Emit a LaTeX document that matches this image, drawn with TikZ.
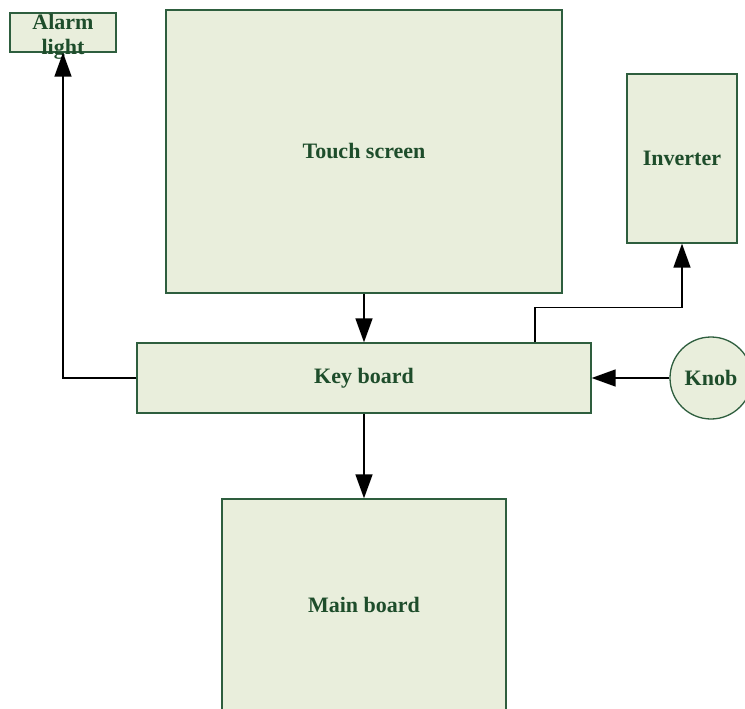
\documentclass[tikz,border=0pt]{standalone}
\usepackage{fontspec}
\setmainfont{Liberation Serif}
\usepackage{tikz}
\usetikzlibrary{arrows.meta,positioning}

\definecolor{boxfill}{HTML}{E9EEDC}
\definecolor{boxline}{HTML}{2E5E3E}
\definecolor{boxtext}{HTML}{1E4D2B}

\begin{document}
\begin{tikzpicture}[
  x=1pt, y=-1pt,
  font=\bfseries\fontsize{22}{25}\selectfont,
  block/.style={draw=boxline, fill=boxfill, line width=1.3pt, inner sep=0pt, text=boxtext, align=center},
  round/.style={block, circle},
  caption/.style={inner sep=0pt, text=boxtext, align=center},
  arrow/.style={-{Triangle[length=24pt,width=17pt]}, line width=1.5pt}
]
\useasboundingbox (0,0) rectangle (745,709);
\clip (0,0) rectangle (745,709);

\node[block, minimum width=396pt, minimum height=283pt] (touch) at (364,151.5) {Touch screen};
\node[block, minimum width=454pt, minimum height=70pt] (keyb) at (364,378) {Key board};
\node[block, minimum width=284pt, minimum height=212pt] (main) at (364,605) {Main board};
\node[block, minimum width=110pt, minimum height=169pt] (inv) at (682,158.5) {Inverter};
\node[round, minimum size=82pt] (knob) at (711,378) {Knob};

% alarm box is smaller than its text, so the text sits on top of it
\node[block, minimum width=106pt, minimum height=39pt] (alarm) at (63,32.5) {};
\node[caption] (alarmtext) at (63,37) {Alarm\\light};

\draw[arrow] (touch.south) -- (keyb.north);
\draw[arrow] (keyb.south) -- (main.north);
\draw[arrow] (keyb.west) -| (alarm.south);
\draw[arrow] ([xshift=171pt]keyb.north) -- ++(0,-35) -| (inv.south);
\draw[arrow] (knob.west) -- (keyb.east);

\end{tikzpicture}
\end{document}
